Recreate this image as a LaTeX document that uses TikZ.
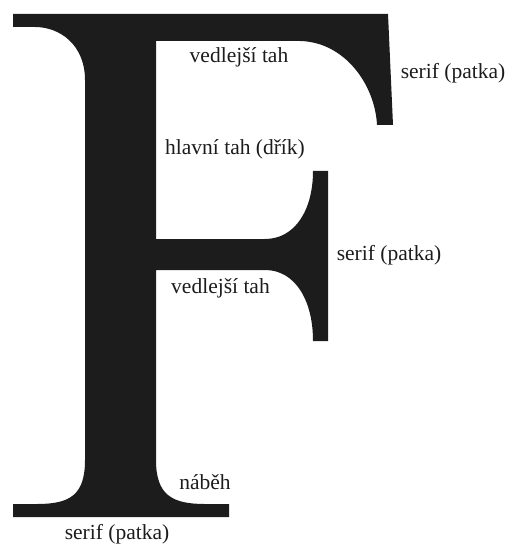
\documentclass[tikz,border=0pt]{standalone}
\usepackage{fontspec}
\setmainfont{Liberation Serif}
\definecolor{inkgray}{RGB}{28,28,28}
\tikzset{
  glyph/.style={fill=inkgray},
  part/.style={inner sep=0pt, text=inkgray, font=\fontsize{21.5}{26}\selectfont}
}
\begin{document}
\begin{tikzpicture}[x=1pt, y=-1pt]
  \useasboundingbox (0,0) rectangle (507,545);
  % The letter F
  \fill[glyph] (13,14) -- (388,14) -- (393,125) -- (377,125)
    .. controls (375,85) and (345,42) .. (300,41)   % top right serif
    -- (156,41) -- (156,239) -- (265,239)
    .. controls (295,239) and (313,210) .. (313,171) % middle serif, upper
    -- (328,171) -- (328,341) -- (313,341)
    .. controls (313,300) and (295,270) .. (265,270) % middle serif, lower
    -- (156,270) -- (156,460)
    .. controls (156,495) and (172,504) .. (205,504) % bracket right
    -- (229,504) -- (229,517) -- (13,517) -- (13,504) -- (37,504)
    .. controls (70,504) and (85,495) .. (85,460)    % bracket left
    -- (85,80)
    .. controls (85,45) and (60,27) .. (35,27)       % top left
    -- (13,27) -- cycle;
  % Labels
  \node[part] (armtop)   at (239,57.5)  {vedlejší tah};
  \node[part] (seriftop) at (453,73)    {serif (patka)};
  \node[part] (stem)     at (235,149.5) {hlavní tah (dřík)};
  \node[part] (serifmid) at (389,255.5) {serif (patka)};
  \node[part] (armmid)   at (220.5,288.5) {vedlejší tah};
  \node[part] (bracket)  at (205,482.5) {náběh};
  \node[part] (serifbot) at (117,534)   {serif (patka)};
\end{tikzpicture}
\end{document}
